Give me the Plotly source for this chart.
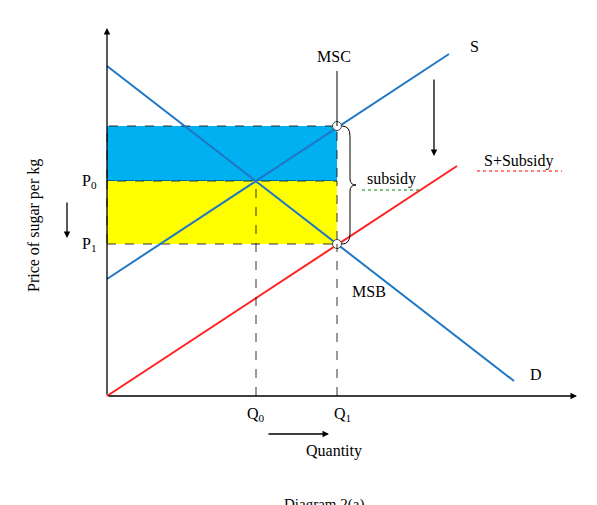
import plotly.graph_objects as go

# data in chart units (origin at axis corner)
q0, q1 = 149, 230
p0, p1, p_msc = 215, 152, 270
s_line = ([0, 342], [117, 342])
d_line = ([0, 407], [330, 15])
sub_line = ([0, 350], [0, 230])

font = "Liberation Serif"
fig = go.Figure()

# shaded areas
fig.add_shape(type="rect", x0=0, x1=q1, y0=p0, y1=p_msc, fillcolor="#00b0f0",
              line=dict(color="black", width=0.8, dash="dash"), layer="below")
fig.add_shape(type="rect", x0=0, x1=q1, y0=p1, y1=p0, fillcolor="#ffff00",
              line=dict(color="black", width=0.8, dash="dash"), layer="below")
for q, p in [(q0, p0), (q1, p1)]:
    fig.add_shape(type="line", x0=q, x1=q, y0=0, y1=p, line=dict(color="black", width=0.8, dash="dash"))
fig.add_shape(type="line", x0=q1, x1=q1, y0=p_msc, y1=325, line=dict(color="black", width=1))

fig.add_trace(go.Scatter(x=s_line[0], y=s_line[1], mode="lines", line=dict(color="#1f77c4", width=2)))
fig.add_trace(go.Scatter(x=d_line[0], y=d_line[1], mode="lines", line=dict(color="#1f77c4", width=2)))
fig.add_trace(go.Scatter(x=sub_line[0], y=sub_line[1], mode="lines", line=dict(color="#ff2020", width=2)))
fig.add_trace(go.Scatter(x=[q1, q1], y=[p_msc, p1], mode="markers",
                         marker=dict(size=9, color="white", line=dict(color="#444", width=1))))

# brace
bx = q1 + 5
mid = (p_msc + p1) / 2
fig.add_shape(type="path", line=dict(color="black", width=1),
              path=f"M {bx},{p_msc} Q {bx+8},{p_msc} {bx+8},{p_msc-10} L {bx+8},{mid+6} "
                   f"Q {bx+8},{mid} {bx+14},{mid} Q {bx+8},{mid} {bx+8},{mid-6} "
                   f"L {bx+8},{p1+10} Q {bx+8},{p1} {bx},{p1}")

def arrow(x0, y0, x1, y1):
    fig.add_annotation(x=x1, y=y1, ax=x0, ay=y0, xref="x", yref="y", axref="x", ayref="y",
                       text="", showarrow=True, arrowhead=2, arrowsize=1, arrowwidth=1.3, arrowcolor="black")

arrow(0, 0, 0, 368)
arrow(0, 0, 470, 0)
arrow(327, 318, 327, 240)
arrow(-40, 195, -40, 158)
arrow(160, -38, 222, -38)

def text(x, y, t, size=16, **kw):
    fig.add_annotation(x=x, y=y, text=t, showarrow=False, font=dict(family=font, size=size, color="black"), **kw)

text(227, 340, "MSC")
text(367, 350, "S")
text(412, 235, "S+Subsidy")
text(284, 217, "subsidy")
text(262, 105, "MSB")
text(429, 22, "D")
text(-18, p0, "P<sub>0</sub>")
text(-18, p1, "P<sub>1</sub>")
text(q0, -18, "Q<sub>0</sub>")
text(q1 + 5, -18, "Q<sub>1</sub>")
text(227, -55, "Quantity")
text(217, -108, "Diagram 2(a)", size=15)
text(-73, 170, "Price of sugar per kg", textangle=-90)
# wavy underlines approximations
fig.add_shape(type="line", x0=255, x1=312, y0=206, y1=206, line=dict(color="green", width=1, dash="dot"))
fig.add_shape(type="line", x0=370, x1=455, y0=225, y1=225, line=dict(color="red", width=1, dash="dot"))

fig.update_layout(width=597, height=505, margin=dict(l=0, r=0, t=0, b=0), showlegend=False,
                  plot_bgcolor="white", paper_bgcolor="white",
                  xaxis=dict(range=[-99, 498], visible=False),
                  yaxis=dict(range=[-117, 388], visible=False))
fig.write_html("out.html")
